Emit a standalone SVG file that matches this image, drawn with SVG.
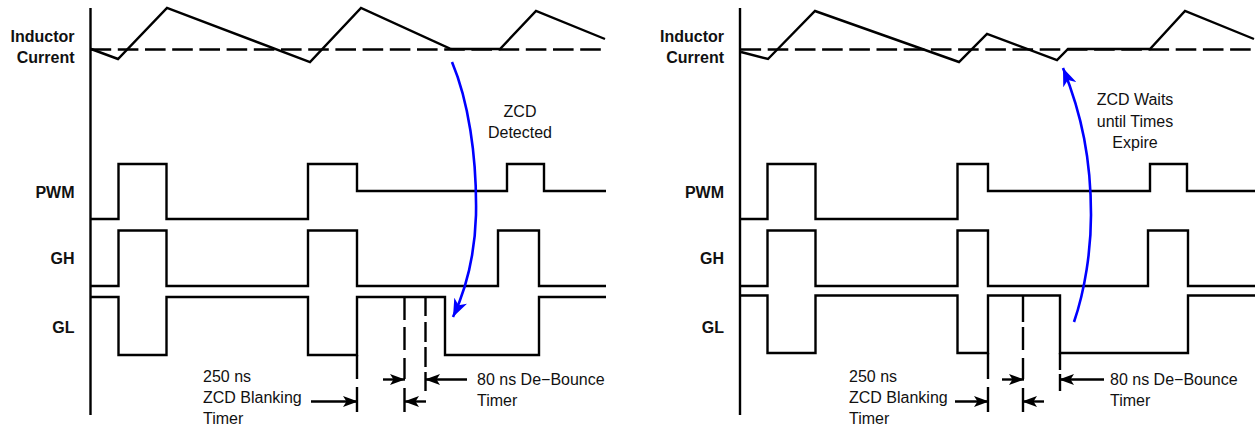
<svg xmlns="http://www.w3.org/2000/svg" width="1257" height="430" viewBox="0 0 1257 430">
<style>
text{font-family:"Liberation Sans",Arial,sans-serif;font-size:16px;fill:#111}
.b{font-weight:bold;text-anchor:end}
.m{text-anchor:middle}
.w{fill:none;stroke:#000;stroke-width:2.4;stroke-linejoin:miter}
.d{stroke-dasharray:20.6 6.6}
.t{fill:none;stroke:#000;stroke-width:2.4}
.a{fill:none;stroke:#000;stroke-width:2.4;marker-end:url(#head)}
.z{fill:none;stroke:#0000ff;stroke-width:2.6;marker-end:url(#blue)}
</style>
<defs>
<marker id="head" markerUnits="userSpaceOnUse" viewBox="0 0 15 12" refX="15" refY="6" markerWidth="15" markerHeight="12" orient="auto"><path d="M0 0.500L15 6L0 11.500L3.500 6Z" fill="#000"/></marker>
<marker id="blue" markerUnits="userSpaceOnUse" viewBox="0 0 18 14" refX="18" refY="7" markerWidth="18" markerHeight="14" orient="auto"><path d="M0 0L18 7L0 14L5 7Z" fill="#0000ff"/></marker>
</defs>
<g id="left-labels">
<text class="b" x="74.5" y="42">Inductor</text><text class="b" x="74.5" y="63">Current</text>
<text class="b" x="74.5" y="198">PWM</text><text class="b" x="74.5" y="264">GH</text><text class="b" x="74.5" y="333">GL</text>
<text x="203" y="382">250 ns</text><text x="203" y="403">ZCD Blanking</text><text x="203" y="424">Timer</text>
<text x="477" y="385">80 ns De−Bounce</text><text x="477" y="406">Timer</text>
<text class="m" x="520" y="117">ZCD</text><text class="m" x="520" y="138">Detected</text>
</g>
<g id="left-waves">
<path id="l-axis" class="w" d="M90.5 8V415"/>
<path id="l-zero" class="w d" d="M90.6 49.5H605"/>
<path id="l-current" class="w" d="M91 49L118 59L167 8L310 62L361 8L451 49H500L536 11L605 39"/>
<path id="l-pwm" class="w" d="M91 219H118.500V164H166.500V219H308V164H357V191H507V164H544V191H606"/>
<path id="l-gh" class="w" d="M91 286H118.500V230.500H166.500V286H308V230.500H357V286H498V230.500H539V286H606"/>
<path id="l-gl" class="w" d="M91 297H118.500V355H166.500V297H308V355H357V297H445V355H539V297H606"/>
</g>
<g id="left-connectors">
<path class="t" d="M357 355V379M357 387V412M404.500 297V320M404.500 327V350M404.500 358V379M404.500 388V412M425.500 297V316M425.500 322V342M425.500 347V367M425.500 372V391"/>
<path class="a" d="M383 379.500H405"/><path class="a" d="M467 379.500H425"/>
<path class="a" d="M311 401.500H358"/><path class="a" d="M426 401.500H404"/>
<path class="z" d="M452 62C468 100 477 155 476 215C475 250 468 285 453 317"/>
</g>
<g id="right-labels">
<text class="b" x="724" y="42">Inductor</text><text class="b" x="724" y="63">Current</text>
<text class="b" x="724" y="198">PWM</text><text class="b" x="724" y="264">GH</text><text class="b" x="724" y="333">GL</text>
<text x="849" y="382">250 ns</text><text x="849" y="403">ZCD Blanking</text><text x="849" y="424">Timer</text>
<text x="1110" y="385">80 ns De−Bounce</text><text x="1110" y="406">Timer</text>
<text class="m" x="1135" y="105">ZCD Waits</text><text class="m" x="1135" y="127">until Times</text><text class="m" x="1135" y="148">Expire</text>
</g>
<g id="right-waves">
<path id="r-axis" class="w" d="M740 8V415"/>
<path id="r-zero" class="w d" d="M740.500 49.500H1254"/>
<path id="r-current" class="w" d="M741 52L768 59L815 11L959 62L987 34L1057 60L1068 49H1150L1185 11L1254 39"/>
<path id="r-pwm" class="w" d="M741 219H767.500V164H815.500V219H957.500V164H988V191H1150V164H1187V191H1255"/>
<path id="r-gh" class="w" d="M741 286H767.500V230.500H815.500V286H957.500V230.500H988V286H1148V230.500H1188V286H1255"/>
<path id="r-gl" class="w" d="M741 295.500H767.500V353H815.500V295.500H957.500V353H988V295.500H1060V353H1188V295.500H1255"/>
</g>
<g id="right-connectors">
<path class="t" d="M988 353V379M988 387V412M1023 295V322M1023 327V350M1023 358V379M1023 388V412M1060 353V370M1060 374V391"/>
<path class="a" d="M1002 379.500H1024"/><path class="a" d="M1104 379.500H1059"/>
<path class="a" d="M955 401.500H989"/><path class="a" d="M1044 401.500H1022"/>
<path class="z" d="M1074 322C1085 290 1091 250 1091 215C1091 160 1082 115 1063 68"/>
</g>
</svg>
